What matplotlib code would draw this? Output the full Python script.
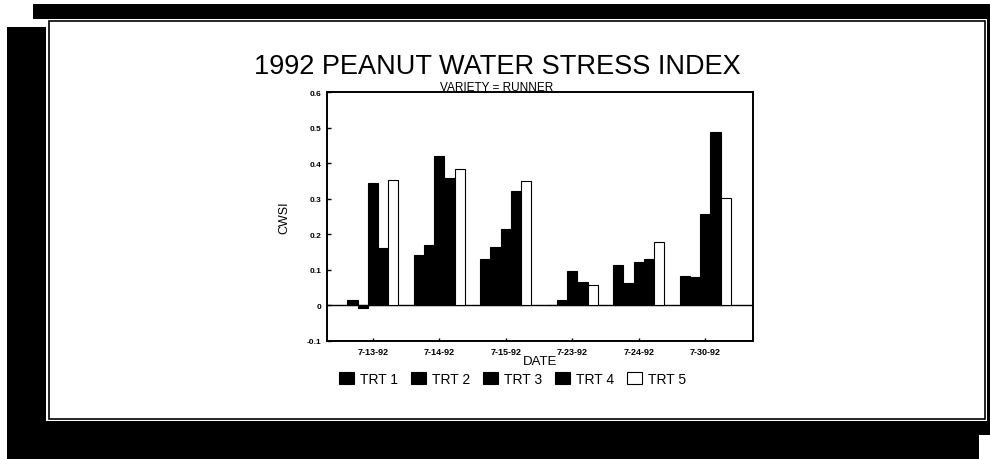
import matplotlib
matplotlib.use("Agg")
import matplotlib.pyplot as plt
from matplotlib.patches import Rectangle, Patch
import numpy as np

plt.rcParams['font.family'] = ['Liberation Sans', 'DejaVu Sans']

dates = ["7-13-92", "7-14-92", "7-15-92", "7-23-92", "7-24-92", "7-30-92"]
treatments = ["TRT 1", "TRT 2", "TRT 3", "TRT 4", "TRT 5"]

trt1 = [0.015, 0.143, 0.131, 0.002, 0.115, 0.084]
trt2 = [-0.007, 0.170, 0.163, 0.015, 0.063, 0.080]
trt3 = [0.344, 0.419, 0.215, 0.096, 0.122, 0.256]
trt4 = [0.162, 0.359, 0.322, 0.065, 0.130, 0.487]
trt5 = [0.354, 0.384, 0.351, 0.057, 0.178, 0.301]
series = [trt1, trt2, trt3, trt4, trt5]
colors = ["black", "black", "black", "black", "white"]

W, H = 990, 460


def fx(px):
    return px / W


def fy(py):
    return 1 - py / H


fig = plt.figure(figsize=(9.9, 4.6), dpi=100)

# black photocopy-style frame round the panel
def black_box(x0, y0, x1, y1, color="black"):
    fig.add_artist(Rectangle((fx(x0), fy(y1)), fx(x1) - fx(x0), fy(y0) - fy(y1),
                             transform=fig.transFigure, facecolor=color,
                             edgecolor="none", zorder=0))

black_box(33, 5, 990, 20)
black_box(7, 28, 46, 460)
black_box(7, 422, 990, 460)
black_box(987, 5, 990, 460)
black_box(979, 436, 990, 460, color="white")
fig.add_artist(Rectangle((fx(48.5), fy(420)), fx(985) - fx(48.5), fy(22) - fy(420),
                         transform=fig.transFigure, facecolor="none",
                         edgecolor="black", linewidth=1.2, zorder=1))

ax = fig.add_axes([fx(327), fy(342), fx(753) - fx(327), fy(93) - fy(342)])

x = np.arange(len(dates))
width = 0.154
for i, vals in enumerate(series):
    ax.bar(x + (i - 2) * width, vals, width, color=colors[i],
           edgecolor="black", linewidth=0.8, zorder=2)

ax.axhline(0, color="black", linewidth=1.0, zorder=1)
ax.set_xlim(-0.69, 5.72)
ax.set_ylim(-0.1, 0.6)
ax.set_yticks(np.arange(-0.1, 0.61, 0.1))
ax.set_yticklabels(["-0.1", "0", "0.1", "0.2", "0.3", "0.4", "0.5", "0.6"])
ax.set_xticks(x)
ax.set_xticklabels(dates)
ax.tick_params(axis="y", direction="in", length=3, width=1, pad=4,
               labelsize=6)
ax.tick_params(axis="x", direction="in", length=2, width=1, pad=4,
               labelsize=6.5)
for lab in ax.get_xticklabels() + ax.get_yticklabels():
    lab.set_fontweight("bold")
for sp in ax.spines.values():
    sp.set_linewidth(1.4)

ax.set_ylabel("CWSI", fontsize=9)
ax.yaxis.set_label_coords(-0.085, 0.5)

fig.text(fx(497), fy(74.5), "1992 PEANUT WATER STRESS INDEX", fontsize=19.5,
         ha="center", va="baseline")
fig.text(fx(497), fy(91), "VARIETY = RUNNER", fontsize=8.5,
         ha="center", va="baseline")
fig.text(fx(540), fy(362), "DATE", fontsize=9.5, ha="center", va="center")

handles = [Patch(facecolor=c, edgecolor="black", linewidth=0.8) for c in colors]
fig.legend(handles, treatments, loc="center", ncol=5,
           bbox_to_anchor=(fx(513), fy(380)), frameon=False, fontsize=10,
           handlelength=1.08, handleheight=0.94, handletextpad=0.43,
           columnspacing=0.93, borderpad=0)

fig.savefig("out.png", dpi=100, facecolor="white")
